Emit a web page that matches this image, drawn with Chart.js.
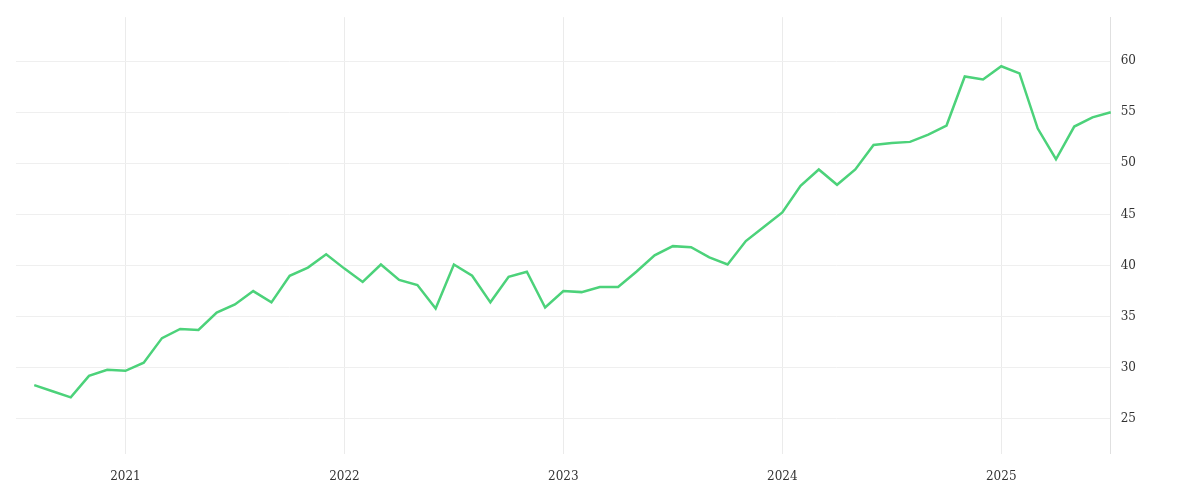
<!DOCTYPE html>
<html>
<head>
<meta charset="utf-8">
<script src="https://cdn.jsdelivr.net/npm/chart.js@4"></script>
<style>
  html, body { margin:0; padding:0; background:#fff; }
  #wrap { width:1200px; height:500px; }
</style>
</head>
<body>
<div id="wrap"><canvas id="lineChart"></canvas></div>
<script>
// monthly series, Jul 2020 (empty lead slot) .. Jul 2025
const startYear = 2020, startMonth = 6; // 0-based month (Jul)
const values = [
  null,
  28.3, 27.7, 27.1, 29.2, 29.8,
  29.7, 30.5, 32.9, 33.8, 33.7, 35.4, 36.2, 37.5, 36.4, 39.0, 39.8, 41.1,
  39.7, 38.4, 40.1, 38.6, 38.1, 35.8, 40.1, 39.0, 36.4, 38.9, 39.4, 35.9,
  37.5, 37.4, 37.9, 37.9, 39.4, 41.0, 41.9, 41.8, 40.8, 40.1, 42.4, 43.8,
  45.2, 47.8, 49.4, 47.9, 49.4, 51.8, 52.0, 52.1, 52.8, 53.7, 58.5, 58.2,
  59.5, 58.8, 53.4, 50.4, 53.6, 54.5, 55.0
];
const labels = values.map((v, i) => {
  const m = startMonth + i;
  return { year: startYear + Math.floor(m / 12), month: m % 12 };
});
const yTicks = [25, 30, 35, 40, 45, 50, 55, 60];

function drawLine() {
  const ctx = document.getElementById('lineChart').getContext('2d');
  new Chart(ctx, {
    type: 'line',
    data: {
      labels: labels.map(l => l.year + '-' + (l.month + 1)),
      datasets: [{ data: values, borderColor: '#4cd27a', borderWidth: 2.5, pointRadius: 0, tension: 0, fill: false }]
    },
    options: {
      responsive: true, maintainAspectRatio: false, animation: false,
      layout: { padding: { left: 14, top: 7, right: 54, bottom: 0 } },
      plugins: { legend: { display: false }, tooltip: { enabled: false } },
      scales: {
        x: {
          offset: false,
          border: { display: false },
          grid: {
            drawTicks: false,
            color: c => (labels[c.index] && labels[c.index].month === 0) ? '#ebebeb' : 'rgba(0,0,0,0)'
          },
          ticks: {
            autoSkip: false, maxRotation: 0, padding: 16,
            color: '#333', font: { family: 'DejaVu Serif', size: 12 },
            callback: (v, i) => labels[i].month === 0 ? String(labels[i].year) : ''
          }
        },
        y: {
          position: 'right', min: 21.6, max: 64.3,
          afterBuildTicks: s => { s.ticks = yTicks.map(v => ({ value: v })); },
          border: { display: true, color: '#e0e0e0' },
          grid: { color: '#efefef', drawTicks: false },
          ticks: { padding: 10, color: '#333', font: { family: 'DejaVu Serif', size: 12 } }
        }
      }
    }
  });
}
drawLine();
</script>
</body>
</html>
